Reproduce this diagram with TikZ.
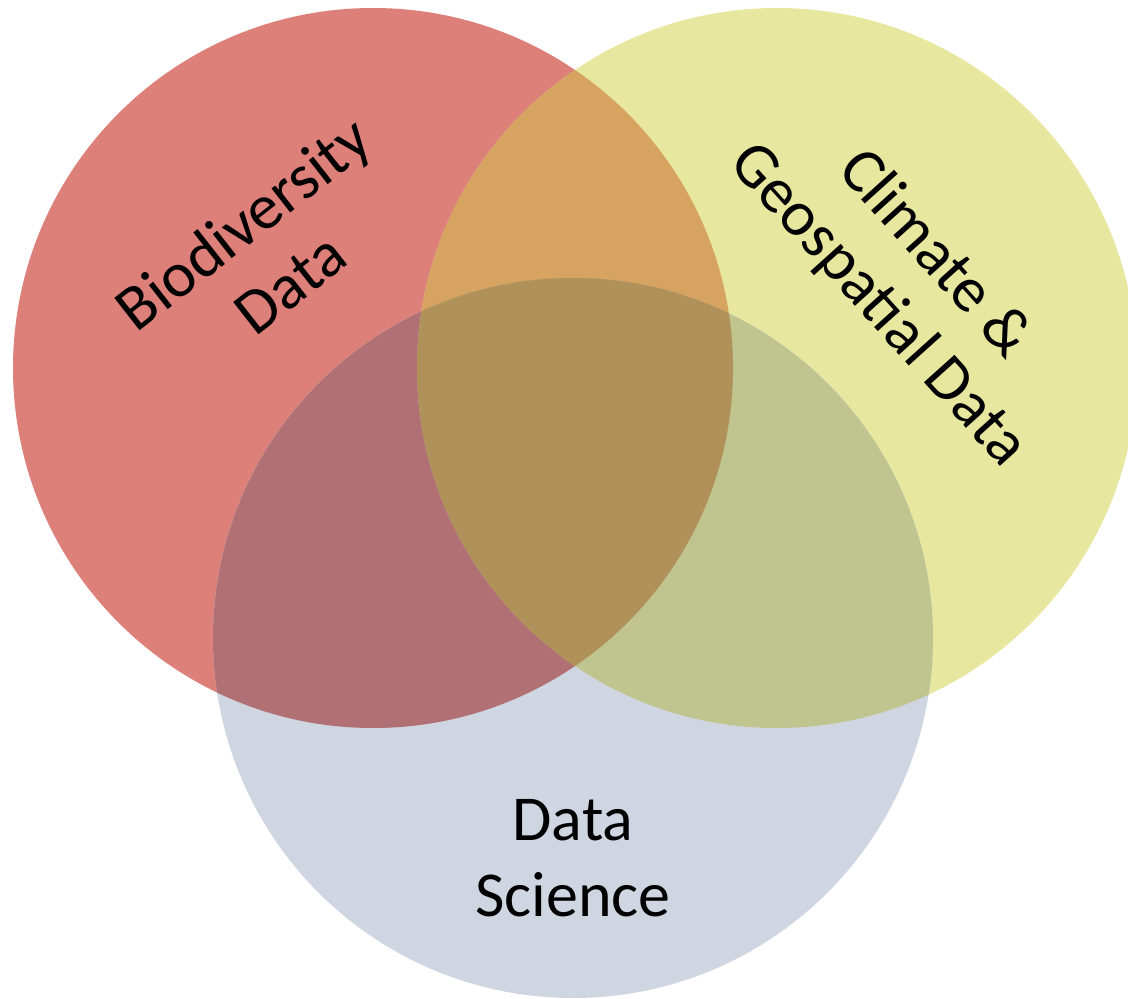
\documentclass[tikz,border=0pt]{standalone}
\usepackage{fontspec}
\setmainfont{Carlito}
\definecolor{cR}{RGB}{221,128,122}
\definecolor{cY}{RGB}{231,231,159}
\definecolor{cB}{RGB}{207,214,225}
\definecolor{cRY}{RGB}{214,163,96}
\definecolor{cRB}{RGB}{176,112,116}
\definecolor{cYB}{RGB}{192,196,142}
\definecolor{cRYB}{RGB}{175,145,89}
\tikzset{lbl/.style={font=\fontsize{64}{76}\selectfont, align=center, text=black, inner sep=0pt}}
\begin{document}
\begin{tikzpicture}[x=1pt,y=-1pt]
\useasboundingbox (0,0) rectangle (1128,999);
\def\Rc{(373,368) circle[radius=360]}
\def\Yc{(777,368) circle[radius=360]}
\def\Bc{(573,638) circle[radius=360]}
\fill[cR] \Rc;
\fill[cY] \Yc;
\fill[cB] \Bc;
\begin{scope}\clip \Rc; \fill[cRY] \Yc; \fill[cRB] \Bc; \end{scope}
\begin{scope}\clip \Yc; \fill[cYB] \Bc; \end{scope}
\begin{scope}\clip \Rc; \clip \Yc; \fill[cRYB] \Bc; \end{scope}
\node[lbl, rotate=38] (bio) at (266,253) {Biodiversity\\Data};
\node[lbl, rotate=-48] (clim) at (906,280) {Climate \&\\Geospatial Data};
\node[lbl] (ds) at (573,858) {Data\\Science};
\end{tikzpicture}
\end{document}
